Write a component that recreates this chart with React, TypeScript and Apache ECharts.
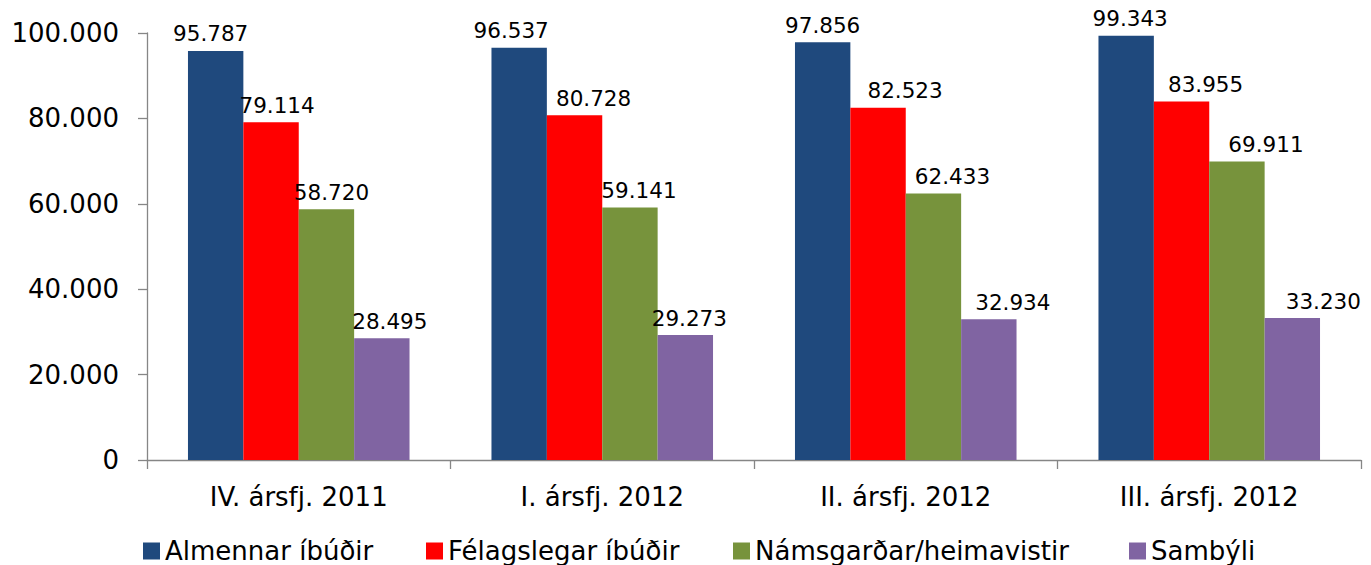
import React, { useEffect, useRef } from "react";
import * as echarts from "echarts";

const categories = ["IV. ársfj. 2011", "I. ársfj. 2012", "II. ársfj. 2012", "III. ársfj. 2012"];
const seriesNames = ["Almennar íbúðir", "Félagslegar íbúðir", "Námsgarðar/heimavistir", "Sambýli"];
const almennar = [95787, 96537, 97856, 99343];
const felagslegar = [79114, 80728, 82523, 83955];
const namsgardar = [58720, 59141, 62433, 69911];
const sambyli = [28495, 29273, 32934, 33230];
const yTicks = { min: 0, max: 100000, interval: 20000 };

// label horizontal shifts (style only), as placed in the original
const labelShift = [
  [-5, -8, 0, 4],
  [6, 19, 27, 24],
  [5, 9, 19, 29],
  [8, 4, 24, 31],
];
const legendLeft = [143, 426, 733, 1129];
const colors = ["#1F497D", "#FF0000", "#77933C", "#8064A2"];
const FONT = "Verdana, 'DejaVu Sans', sans-serif";

function fmt(v: number): string {
  const s = Math.round(v).toString();
  return s.replace(/\B(?=(\d{3})+(?!\d))/g, ".");
}

export default function App() {
  const ref = useRef<HTMLDivElement>(null);
  useEffect(() => {
    if (!ref.current) return;
    const chart = echarts.init(ref.current, undefined, { renderer: "svg" });
    const all = [almennar, felagslegar, namsgardar, sambyli];
    chart.setOption({
      animation: false,
      textStyle: { fontFamily: FONT },
      grid: { left: 147, right: 10, top: 33, bottom: 105, containLabel: false },
      legend: seriesNames.map((n, i) => ({
        left: legendLeft[i],
        top: 538,
        padding: 0,
        itemWidth: 17,
        itemHeight: 17,
        icon: "rect",
        textStyle: { fontSize: 26, lineHeight: 24, color: "#000", fontFamily: FONT },
        data: [n],
      })),
      xAxis: {
        type: "category",
        data: categories,
        axisLine: { lineStyle: { color: "#868686", width: 1.3 } },
        axisTick: { show: true, length: 9, alignWithLabel: false, lineStyle: { color: "#868686", width: 1.3 } },
        axisLabel: { fontSize: 26, color: "#000", margin: 24, fontFamily: FONT },
      },
      yAxis: {
        type: "value",
        min: yTicks.min,
        max: yTicks.max,
        interval: yTicks.interval,
        splitLine: { show: false },
        axisLine: { show: true, lineStyle: { color: "#868686", width: 1.3 } },
        axisTick: { show: true, length: 9, lineStyle: { color: "#868686", width: 1.3 } },
        axisLabel: { fontSize: 26, color: "#000", margin: 28, fontFamily: FONT, formatter: (v: number) => fmt(v) },
      },
      series: all.map((vals, si) => ({
        name: seriesNames[si],
        type: "bar",
        barGap: "0%",
        barCategoryGap: "27%",
        itemStyle: { color: colors[si] },
        data: vals.map((v, i) => ({
          value: v,
          label: { offset: [labelShift[si][i], 0] },
        })),
        label: {
          show: true,
          position: "top",
          distance: 6,
          color: "#000",
          fontSize: 21.5,
          fontFamily: FONT,
          formatter: (p: any) => fmt(p.value),
        },
      })),
    });
    return () => chart.dispose();
  }, []);
  return <div ref={ref} style={{ width: 1371, height: 565, position: "absolute", left: 0, top: 0 }} />;
}
